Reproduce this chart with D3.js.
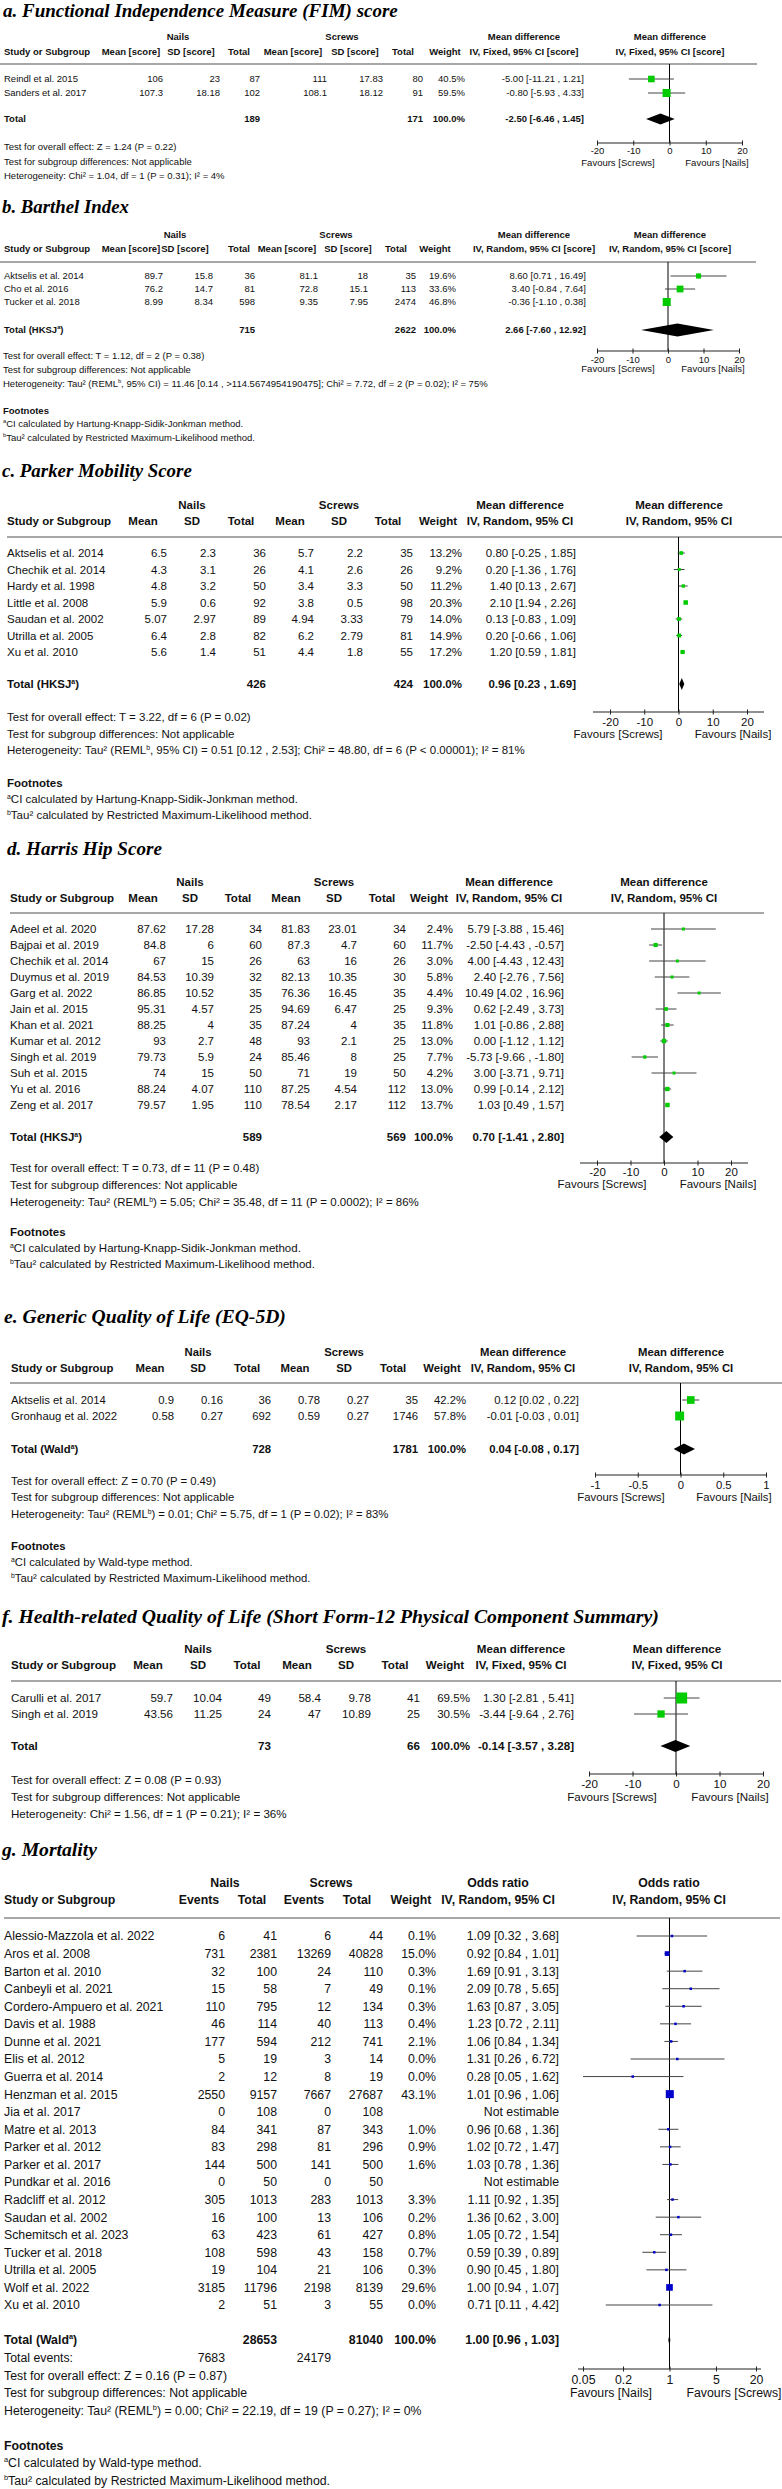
<!DOCTYPE html>
<html><head><meta charset="utf-8">
<script src="https://cdn.jsdelivr.net/npm/d3@7"></script>
<style>body{margin:0;background:#fff}svg{display:block}</style>
</head><body>
<svg id="chart" width="782" height="2489"></svg>
<script>
// ---------------- DATA ----------------
// continuous rows: [study, nailsMean, nailsSD, nailsTotal, screwsMean, screwsSD, screwsTotal, weight%, estimate, lower, upper]
const fimRows = [
  ["Reindl et al. 2015", 106, 23, 87, 111, 17.83, 80, 40.5, -5.00, -11.21, 1.21],
  ["Sanders et al. 2017", 107.3, 18.18, 102, 108.1, 18.12, 91, 59.5, -0.80, -5.93, 4.33]
];
const fimTotal = ["Total", 189, 171, 100.0, -2.50, -6.46, 1.45];
const fimTests = ["Test for overall effect: Z = 1.24 (P = 0.22)", "Test for subgroup differences: Not applicable", "Heterogeneity: Chi² = 1.04, df = 1 (P = 0.31); I² = 4%"];

const barthelRows = [
  ["Aktselis et al. 2014", 89.7, 15.8, 36, 81.1, 18, 35, 19.6, 8.60, 0.71, 16.49],
  ["Cho et al. 2016", 76.2, 14.7, 81, 72.8, 15.1, 113, 33.6, 3.40, -0.84, 7.64],
  ["Tucker et al. 2018", 8.99, 8.34, 598, 9.35, 7.95, 2474, 46.8, -0.36, -1.10, 0.38]
];
const barthelTotal = ["Total (HKSJ^a)", 715, 2622, 100.0, 2.66, -7.60, 12.92];
const barthelTests = ["Test for overall effect: T = 1.12, df = 2 (P = 0.38)", "Test for subgroup differences: Not applicable", "Heterogeneity: Tau² (REML^b, 95% CI) = 11.46 [0.14 , >114.5674954190475]; Chi² = 7.72, df = 2 (P = 0.02); I² = 75%"];

const parkerRows = [
  ["Aktselis et al. 2014", 6.5, 2.3, 36, 5.7, 2.2, 35, 13.2, 0.80, -0.25, 1.85],
  ["Chechik et al. 2014", 4.3, 3.1, 26, 4.1, 2.6, 26, 9.2, 0.20, -1.36, 1.76],
  ["Hardy et al. 1998", 4.8, 3.2, 50, 3.4, 3.3, 50, 11.2, 1.40, 0.13, 2.67],
  ["Little et al. 2008", 5.9, 0.6, 92, 3.8, 0.5, 98, 20.3, 2.10, 1.94, 2.26],
  ["Saudan et al. 2002", 5.07, 2.97, 89, 4.94, 3.33, 79, 14.0, 0.13, -0.83, 1.09],
  ["Utrilla et al. 2005", 6.4, 2.8, 82, 6.2, 2.79, 81, 14.9, 0.20, -0.66, 1.06],
  ["Xu et al. 2010", 5.6, 1.4, 51, 4.4, 1.8, 55, 17.2, 1.20, 0.59, 1.81]
];
const parkerTotal = ["Total (HKSJ^a)", 426, 424, 100.0, 0.96, 0.23, 1.69];
const parkerTests = ["Test for overall effect: T = 3.22, df = 6 (P = 0.02)", "Test for subgroup differences: Not applicable", "Heterogeneity: Tau² (REML^b, 95% CI) = 0.51 [0.12 , 2.53]; Chi² = 48.80, df = 6 (P < 0.00001); I² = 81%"];

const harrisRows = [
  ["Adeel et al. 2020", 87.62, 17.28, 34, 81.83, 23.01, 34, 2.4, 5.79, -3.88, 15.46],
  ["Bajpai et al. 2019", 84.8, 6, 60, 87.3, 4.7, 60, 11.7, -2.50, -4.43, -0.57],
  ["Chechik et al. 2014", 67, 15, 26, 63, 16, 26, 3.0, 4.00, -4.43, 12.43],
  ["Duymus et al. 2019", 84.53, 10.39, 32, 82.13, 10.35, 30, 5.8, 2.40, -2.76, 7.56],
  ["Garg et al. 2022", 86.85, 10.52, 35, 76.36, 16.45, 35, 4.4, 10.49, 4.02, 16.96],
  ["Jain et al. 2015", 95.31, 4.57, 25, 94.69, 6.47, 25, 9.3, 0.62, -2.49, 3.73],
  ["Khan et al. 2021", 88.25, 4, 35, 87.24, 4, 35, 11.8, 1.01, -0.86, 2.88],
  ["Kumar et al. 2012", 93, 2.7, 48, 93, 2.1, 25, 13.0, 0.00, -1.12, 1.12],
  ["Singh et al. 2019", 79.73, 5.9, 24, 85.46, 8, 25, 7.7, -5.73, -9.66, -1.80],
  ["Suh et al. 2015", 74, 15, 50, 71, 19, 50, 4.2, 3.00, -3.71, 9.71],
  ["Yu et al. 2016", 88.24, 4.07, 110, 87.25, 4.54, 112, 13.0, 0.99, -0.14, 2.12],
  ["Zeng et al. 2017", 79.57, 1.95, 110, 78.54, 2.17, 112, 13.7, 1.03, 0.49, 1.57]
];
const harrisTotal = ["Total (HKSJ^a)", 589, 569, 100.0, 0.70, -1.41, 2.80];
const harrisTests = ["Test for overall effect: T = 0.73, df = 11 (P = 0.48)", "Test for subgroup differences: Not applicable", "Heterogeneity: Tau² (REML^b) = 5.05; Chi² = 35.48, df = 11 (P = 0.0002); I² = 86%"];

const eqRows = [
  ["Aktselis et al. 2014", 0.9, 0.16, 36, 0.78, 0.27, 35, 42.2, 0.12, 0.02, 0.22],
  ["Gronhaug et al. 2022", 0.58, 0.27, 692, 0.59, 0.27, 1746, 57.8, -0.01, -0.03, 0.01]
];
const eqTotal = ["Total (Wald^a)", 728, 1781, 100.0, 0.04, -0.08, 0.17];
const eqTests = ["Test for overall effect: Z = 0.70 (P = 0.49)", "Test for subgroup differences: Not applicable", "Heterogeneity: Tau² (REML^b) = 0.01; Chi² = 5.75, df = 1 (P = 0.02); I² = 83%"];

const sfRows = [
  ["Carulli et al. 2017", 59.7, 10.04, 49, 58.4, 9.78, 41, 69.5, 1.30, -2.81, 5.41],
  ["Singh et al. 2019", 43.56, 11.25, 24, 47, 10.89, 25, 30.5, -3.44, -9.64, 2.76]
];
const sfTotal = ["Total", 73, 66, 100.0, -0.14, -3.57, 3.28];
const sfTests = ["Test for overall effect: Z = 0.08 (P = 0.93)", "Test for subgroup differences: Not applicable", "Heterogeneity: Chi² = 1.56, df = 1 (P = 0.21); I² = 36%"];

// dichotomous rows: [study, nailsEvents, nailsTotal, screwsEvents, screwsTotal, weight%, OR, lower, upper]
const mortRows = [
  ["Alessio-Mazzola et al. 2022", 6, 41, 6, 44, 0.1, 1.09, 0.32, 3.68],
  ["Aros et al. 2008", 731, 2381, 13269, 40828, 15.0, 0.92, 0.84, 1.01],
  ["Barton et al. 2010", 32, 100, 24, 110, 0.3, 1.69, 0.91, 3.13],
  ["Canbeyli et al. 2021", 15, 58, 7, 49, 0.1, 2.09, 0.78, 5.65],
  ["Cordero-Ampuero et al. 2021", 110, 795, 12, 134, 0.3, 1.63, 0.87, 3.05],
  ["Davis et al. 1988", 46, 114, 40, 113, 0.4, 1.23, 0.72, 2.11],
  ["Dunne et al. 2021", 177, 594, 212, 741, 2.1, 1.06, 0.84, 1.34],
  ["Elis et al. 2012", 5, 19, 3, 14, 0.0, 1.31, 0.26, 6.72],
  ["Guerra et al. 2014", 2, 12, 8, 19, 0.0, 0.28, 0.05, 1.62],
  ["Henzman et al. 2015", 2550, 9157, 7667, 27687, 43.1, 1.01, 0.96, 1.06],
  ["Jia et al. 2017", 0, 108, 0, 108, null, null, null, null],
  ["Matre et al. 2013", 84, 341, 87, 343, 1.0, 0.96, 0.68, 1.36],
  ["Parker et al. 2012", 83, 298, 81, 296, 0.9, 1.02, 0.72, 1.47],
  ["Parker et al. 2017", 144, 500, 141, 500, 1.6, 1.03, 0.78, 1.36],
  ["Pundkar et al. 2016", 0, 50, 0, 50, null, null, null, null],
  ["Radcliff et al. 2012", 305, 1013, 283, 1013, 3.3, 1.11, 0.92, 1.35],
  ["Saudan et al. 2002", 16, 100, 13, 106, 0.2, 1.36, 0.62, 3.00],
  ["Schemitsch et al. 2023", 63, 423, 61, 427, 0.8, 1.05, 0.72, 1.54],
  ["Tucker et al. 2018", 108, 598, 43, 158, 0.7, 0.59, 0.39, 0.89],
  ["Utrilla et al. 2005", 19, 104, 21, 106, 0.3, 0.90, 0.45, 1.80],
  ["Wolf et al. 2022", 3185, 11796, 2198, 8139, 29.6, 1.00, 0.94, 1.07],
  ["Xu et al. 2010", 2, 51, 3, 55, 0.0, 0.71, 0.11, 4.42]
];
const mortTotal = ["Total (Wald^a)", 28653, 81040, 100.0, 1.00, 0.96, 1.03];
const mortEvents = [7683, 24179];
const mortTests = ["Test for overall effect: Z = 0.16 (P = 0.87)", "Test for subgroup differences: Not applicable", "Heterogeneity: Tau² (REML^b) = 0.00; Chi² = 22.19, df = 19 (P = 0.27); I² = 0%"];

const titles = [
  "a. Functional Independence Measure (FIM) score",
  "b. Barthel Index",
  "c. Parker Mobility Score",
  "d. Harris Hip Score",
  "e. Generic Quality of Life (EQ-5D)",
  "f. Health-related Quality of Life (Short Form-12 Physical Component Summary)",
  "g. Mortality"
];
const headsScore = ["Mean [score]", "SD [score]", "Total", "Mean [score]", "SD [score]", "Total"];
const headsPlain = ["Mean", "SD", "Total", "Mean", "SD", "Total"];
const headsEvents = ["Events", "Total", "Events", "Total"];
const ticksMD20 = [-20, -10, 0, 10, 20];
const ticksEQ = [-1, -0.5, 0, 0.5, 1];
const ticksOR = [0.05, 0.2, 1, 5, 20];
const favMD = ["Favours [Screws]", "Favours [Nails]"];
const favOR = ["Favours [Nails]", "Favours [Screws]"];
const footHKSJ = ["^aCI calculated by Hartung-Knapp-Sidik-Jonkman method.", "^bTau² calculated by Restricted Maximum-Likelihood method."];
const footWald = ["^aCI calculated by Wald-type method.", "^bTau² calculated by Restricted Maximum-Likelihood method."];

// ---------------- RENDER ----------------
const FONT = "'Liberation Sans', Arial, Helvetica, sans-serif";
const SERIF = "'Liberation Serif', 'Times New Roman', serif";
const svg = d3.select("#chart");
svg.append("rect").attr("width", 782).attr("height", 2489).attr("fill", "#fff");

function rich(t, str, fs) {
  str.split(/(\^[ab])/).forEach(p => {
    if (!p) return;
    if (p[0] === "^") t.append("tspan").attr("font-size", fs * 0.6).attr("baseline-shift", (fs * 0.38) + "px").text(p[1]);
    else t.append("tspan").text(p);
  });
}
const ci = (e, l, h) => `${e.toFixed(2)} [${l.toFixed(2)} , ${h.toFixed(2)}]`;

function drawPanel(L, D) {
  const g = svg.append("g");
  const fs = L.fs;
  const txt = (x, y, s, o = {}) => {
    const t = g.append("text").attr("x", x).attr("y", y).attr("dy", "0.36em")
      .attr("font-size", fs).attr("font-family", FONT).attr("fill", "#111")
      .attr("text-anchor", o.anchor || "start");
    if (o.bold) t.attr("font-weight", "bold");
    rich(t, String(s), fs);
    return t;
  };
  // title fitted to width
  const tt = g.append("text").attr("x", L.title[0]).attr("font-family", SERIF)
    .attr("font-weight", "bold").attr("font-style", "italic").attr("font-size", 20).attr("fill", "#000").text(D.title);
  const len = tt.node().getComputedTextLength();
  const tsz = 20 * L.title[1] / len;
  tt.attr("font-size", tsz).attr("y", L.title[2] + 0.33 * tsz);

  // headers
  txt(L.groupX[0], L.groupY, "Nails", { anchor: "middle", bold: true });
  txt(L.groupX[1], L.groupY, "Screws", { anchor: "middle", bold: true });
  txt(L.effect[0], L.groupY, D.effectName, { anchor: "middle", bold: true });
  txt(L.plotHC, L.groupY, D.effectName, { anchor: "middle", bold: true });
  txt(L.studyX, L.headY, "Study or Subgroup", { bold: true });
  D.heads.forEach((h, i) => txt(L.colsHC[i], L.headY, h, { anchor: "middle", bold: true }));
  txt(L.weight[0], L.headY, "Weight", { anchor: "middle", bold: true });
  txt(L.effect[0], L.headY, D.method, { anchor: "middle", bold: true });
  txt(L.plotHC, L.headY, D.method, { anchor: "middle", bold: true });
  g.append("line").attr("x1", L.sepX[0]).attr("x2", L.sepX[1]).attr("y1", L.sepY).attr("y2", L.sepY)
    .attr("stroke", "#8a8a8a").attr("stroke-width", 1.6);

  const x = (D.log ? d3.scaleLog() : d3.scaleLinear()).domain(D.domain).range(L.range);
  const y = d3.scalePoint().domain(D.rows.map(r => r[0])).range(L.rowRange);

  // table rows
  D.rows.forEach(r => {
    const yy = y(r[0]);
    txt(L.studyX, yy, r[0]);
    r.slice(1, r.length - 4).forEach((v, i) => txt(L.colsVR[i], yy, v, { anchor: "end" }));
    const [w, e, lo, hi] = r.slice(r.length - 4);
    if (e == null) txt(L.effect[1], yy, "Not estimable", { anchor: "end" });
    else {
      txt(L.weight[1], yy, w.toFixed(1) + "%", { anchor: "end" });
      txt(L.effect[1], yy, ci(e, lo, hi), { anchor: "end" });
    }
  });
  // total
  const T = D.total;
  txt(L.studyX, L.totalY, T[0], { bold: true });
  txt(L.colsVR[L.totalCols[0]], L.totalY, T[1], { anchor: "end", bold: true });
  txt(L.colsVR[L.totalCols[1]], L.totalY, T[2], { anchor: "end", bold: true });
  txt(L.weight[1], L.totalY, T[3].toFixed(1) + "%", { anchor: "end", bold: true });
  txt(L.effect[1], L.totalY, ci(T[4], T[5], T[6]), { anchor: "end", bold: true });
  if (D.events) {
    txt(L.studyX, L.eventsY, "Total events:");
    txt(L.colsVR[0], L.eventsY, D.events[0], { anchor: "end" });
    txt(L.colsVR[2], L.eventsY, D.events[1], { anchor: "end" });
  }
  D.tests.forEach((s, i) => txt(L.testX, L.testY[i], s));
  if (D.foot) {
    txt(L.testX, L.footY[0], "Footnotes", { bold: true });
    D.foot.forEach((s, i) => txt(L.testX, L.footY[i + 1], s));
  }

  // plot
  const x0 = x(D.nullValue);
  g.append("line").attr("x1", x0).attr("x2", x0).attr("y1", L.sepY).attr("y2", L.axisY)
    .attr("stroke", "#000").attr("stroke-width", 1);
  const est = D.rows.filter(r => r[r.length - 3] != null).map(r => ({
    s: r[0], w: r[r.length - 4], e: r[r.length - 3], lo: r[r.length - 2], hi: r[r.length - 1]
  }));
  g.selectAll("line.ci").data(est).join("line").attr("class", "ci")
    .attr("x1", d => x(d.lo)).attr("x2", d => x(d.hi)).attr("y1", d => y(d.s)).attr("y2", d => y(d.s))
    .attr("stroke", "#444").attr("stroke-width", 1);
  const bs = d => Math.max(L.minBox, L.boxK * Math.sqrt(d.w));
  g.selectAll("rect.box").data(est).join("rect").attr("class", "box")
    .attr("x", d => x(d.e) - bs(d) / 2).attr("y", d => y(d.s) - bs(d) / 2)
    .attr("width", bs).attr("height", bs).attr("fill", D.color);
  const h = L.diamondH;
  g.append("path").attr("fill", "#000")
    .attr("d", `M${x(T[5])},${L.totalY}L${x(T[4])},${L.totalY - h}L${x(T[6])},${L.totalY}L${x(T[4])},${L.totalY + h}Z`);

  // axis
  g.append("line").attr("x1", L.range[0] - L.axisPad).attr("x2", L.range[1] + L.axisPad)
    .attr("y1", L.axisY).attr("y2", L.axisY).attr("stroke", "#222").attr("stroke-width", 1);
  const ag = g.append("g").attr("transform", `translate(0,${L.axisY})`)
    .call(d3.axisBottom(x).tickValues(D.ticks).tickFormat(d => String(d)).tickSizeOuter(0));
  ag.select(".domain").remove();
  ag.selectAll(".tick line").attr("y1", -2.5).attr("y2", 2.5).attr("stroke", "#222");
  ag.selectAll(".tick text").attr("y", L.tickLabY - L.axisY).attr("dy", "0.36em")
    .attr("font-size", fs).attr("font-family", FONT).attr("fill", "#111");
  txt(L.favX[0], L.favY, D.favours[0], { anchor: "middle" });
  txt(L.favX[1], L.favY, D.favours[1], { anchor: "middle" });
}

const GREEN = "#00cc00", BLUE = "#0000cc";

drawPanel({
  fs: 9.5, title: [3, 395, 10.5], groupX: [178, 342], groupY: 37, headY: 52, sepY: 64, sepX: [0, 757],
  studyX: 4, rowRange: [79, 93], totalY: 119, totalCols: [2, 5],
  colsHC: [131, 191, 239, 293, 355, 403], colsVR: [163, 220, 260, 327, 383, 423],
  weight: [445, 465], effect: [524, 584], plotHC: 670,
  range: [597, 742], axisPad: 0, axisY: 143, tickLabY: 151, favY: 163, favX: [618, 717],
  testX: 4, testY: [147, 162, 176], boxK: 1.04, minBox: 3, diamondH: 5.5
}, { title: titles[0], effectName: "Mean difference", method: "IV, Fixed, 95% CI [score]", heads: headsScore,
  rows: fimRows, total: fimTotal, tests: fimTests, domain: [-20, 20], ticks: ticksMD20, nullValue: 0,
  favours: favMD, color: GREEN });

drawPanel({
  fs: 9.5, title: [2, 127, 207], groupX: [175, 336], groupY: 235, headY: 249, sepY: 262, sepX: [0, 756],
  studyX: 4, rowRange: [276, 302], totalY: 330, totalCols: [2, 5],
  colsHC: [131, 185, 239, 287, 348, 396], colsVR: [163, 213, 255, 318, 368, 416],
  weight: [435, 456], effect: [534, 586], plotHC: 670,
  range: [597, 739], axisPad: 0, axisY: 351, tickLabY: 360, favY: 369, favX: [618, 713],
  testX: 3, testY: [356, 370, 384], footY: [411, 424, 438], boxK: 1.17, minBox: 3, diamondH: 6.5
}, { title: titles[1], effectName: "Mean difference", method: "IV, Random, 95% CI [score]", heads: headsScore,
  rows: barthelRows, total: barthelTotal, tests: barthelTests, foot: footHKSJ, domain: [-20, 20], ticks: ticksMD20,
  nullValue: 0, favours: favMD, color: GREEN });

drawPanel({
  fs: 11.5, title: [2, 190, 471], groupX: [192, 339], groupY: 505, headY: 521, sepY: 537, sepX: [7, 782],
  studyX: 7, rowRange: [553, 652], totalY: 684, totalCols: [2, 5],
  colsHC: [143, 192, 241, 290, 339, 388], colsVR: [167, 216, 266, 314, 363, 413],
  weight: [438, 462], effect: [520, 576], plotHC: 679,
  range: [610, 747], axisPad: 17, axisY: 712, tickLabY: 722, favY: 734, favX: [618, 733],
  testX: 7, testY: [717, 734, 750], footY: [783, 799, 815], boxK: 1.0, minBox: 3, diamondH: 6
}, { title: titles[2], effectName: "Mean difference", method: "IV, Random, 95% CI", heads: headsPlain,
  rows: parkerRows, total: parkerTotal, tests: parkerTests, foot: footHKSJ, domain: [-20, 20], ticks: ticksMD20,
  nullValue: 0, favours: favMD, color: GREEN });

drawPanel({
  fs: 11.5, title: [7, 155, 849], groupX: [190, 334], groupY: 882, headY: 898, sepY: 913, sepX: [10, 764],
  studyX: 10, rowRange: [929, 1105], totalY: 1137, totalCols: [2, 5],
  colsHC: [143, 190, 238, 286, 334, 382], colsVR: [166, 214, 262, 310, 357, 406],
  weight: [429, 453], effect: [509, 564], plotHC: 664,
  range: [597, 731], axisPad: 17, axisY: 1163, tickLabY: 1172, favY: 1184, favX: [602, 718],
  testX: 10, testY: [1168, 1185, 1202], footY: [1232, 1248, 1264], boxK: 1.2, minBox: 3, diamondH: 6
}, { title: titles[3], effectName: "Mean difference", method: "IV, Random, 95% CI", heads: headsPlain,
  rows: harrisRows, total: harrisTotal, tests: harrisTests, foot: footHKSJ, domain: [-20, 20], ticks: ticksMD20,
  nullValue: 0, favours: favMD, color: GREEN });

drawPanel({
  fs: 11.3, title: [4, 282, 1317], groupX: [198, 344], groupY: 1352, headY: 1368, sepY: 1383, sepX: [10, 782],
  studyX: 11, rowRange: [1400, 1416], totalY: 1449, totalCols: [2, 5],
  colsHC: [150, 198, 247, 295, 344, 393], colsVR: [174, 223, 271, 320, 369, 418],
  weight: [442, 466], effect: [523, 579], plotHC: 681,
  range: [595, 766], axisPad: 0, axisY: 1475, tickLabY: 1485, favY: 1497, favX: [621, 734],
  testX: 11, testY: [1481, 1497, 1514], footY: [1546, 1562, 1578], boxK: 1.18, minBox: 3, diamondH: 5.5
}, { title: titles[4], effectName: "Mean difference", method: "IV, Random, 95% CI", heads: headsPlain,
  rows: eqRows, total: eqTotal, tests: eqTests, foot: footWald, domain: [-1, 1], ticks: ticksEQ,
  nullValue: 0, favours: favMD, color: GREEN });

drawPanel({
  fs: 11.6, title: [2, 657, 1616], groupX: [198, 346], groupY: 1649, headY: 1665, sepY: 1681, sepX: [11, 781],
  studyX: 11, rowRange: [1698, 1714], totalY: 1746, totalCols: [2, 5],
  colsHC: [148, 198, 247, 297, 346, 395], colsVR: [173, 222, 271, 321, 371, 420],
  weight: [445, 470], effect: [521, 574], plotHC: 677,
  range: [589, 763], axisPad: 0, axisY: 1774, tickLabY: 1784, favY: 1797, favX: [612, 730],
  testX: 11, testY: [1780, 1797, 1814], boxK: 1.32, minBox: 3, diamondH: 6
}, { title: titles[5], effectName: "Mean difference", method: "IV, Fixed, 95% CI", heads: headsPlain,
  rows: sfRows, total: sfTotal, tests: sfTests, domain: [-20, 20], ticks: ticksMD20,
  nullValue: 0, favours: favMD, color: GREEN });

drawPanel({
  fs: 12.3, title: [2, 95, 1850], groupX: [225, 331], groupY: 1883, headY: 1900, sepY: 1918, sepX: [4, 780],
  studyX: 4, rowRange: [1936, 2305], totalY: 2340, eventsY: 2358, totalCols: [1, 3],
  colsHC: [199, 252, 304, 357], colsVR: [225, 277, 331, 383],
  weight: [411, 436], effect: [498, 559], plotHC: 669,
  range: [583, 756], axisPad: 5, axisY: 2369, tickLabY: 2380, favY: 2393, favX: [611, 734],
  testX: 4, testY: [2376, 2393, 2411], footY: [2446, 2463, 2481], boxK: 1.22, minBox: 2.5, diamondH: 6
}, { title: titles[6], effectName: "Odds ratio", method: "IV, Random, 95% CI", heads: headsEvents,
  rows: mortRows, total: mortTotal, events: mortEvents, tests: mortTests, foot: footWald, log: true,
  domain: [0.05, 20], ticks: ticksOR, nullValue: 1, favours: favOR, color: BLUE });
</script>
</body></html>
